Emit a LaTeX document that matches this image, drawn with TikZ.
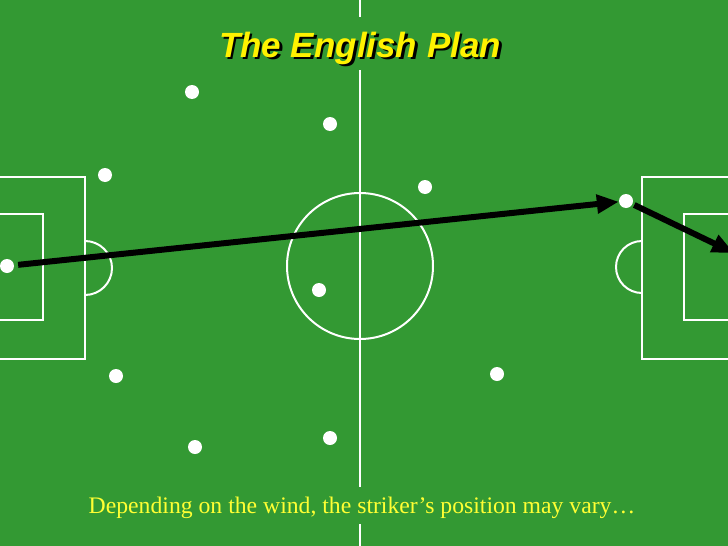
\documentclass[tikz,border=0pt]{standalone}
\usepackage{fontspec}
\setmainfont{Liberation Serif}
\newfontfamily\titlefont{Liberation Sans}
\usetikzlibrary{arrows.meta}
\definecolor{pitch}{RGB}{51,153,51}
\definecolor{caption}{RGB}{255,255,51}
\tikzset{
  marking/.style={draw=white, line width=2pt},
  player/.style={circle, fill=white, inner sep=0pt, minimum size=14pt},
  pass/.style={draw=black, line width=6pt, -{Triangle[length=22pt,width=18pt]}},
  heading/.style={anchor=base, font=\titlefont\bfseries\itshape\fontsize{35}{40}\selectfont},
}

\begin{document}
\begin{tikzpicture}[x=1pt, y=-1pt]
    \useasboundingbox (0,0) rectangle (728,546);
    \clip (0,0) rectangle (728,546);
    \fill[pitch] (0,0) rectangle (728,546);
    % markings
    \draw[marking] (360,0) -- (360,17);
    \draw[marking] (360,70) -- (360,487);
    \draw[marking] (360,524) -- (360,546);
    \draw[marking] (360,266) circle (73);
    \draw[marking] (-5,177) -- (85,177) -- (85,359) -- (-5,359);
    \draw[marking] (-5,214) -- (43,214) -- (43,320) -- (-5,320);
    \draw[marking] (85,241) arc (-90:90:27);
    \draw[marking] (733,177) -- (642,177) -- (642,359) -- (733,359);
    \draw[marking] (733,214) -- (684,214) -- (684,320) -- (733,320);
    \draw[marking] (642,241) arc (-90:-270:26);
    % players
    \node[player] (p1) at (7,266) {};
    \node[player] (p2) at (105,175) {};
    \node[player] (p3) at (116,376) {};
    \node[player] (p4) at (192,92) {};
    \node[player] (p5) at (195,447) {};
    \node[player] (p6) at (330,124) {};
    \node[player] (p7) at (319,290) {};
    \node[player] (p8) at (330,438) {};
    \node[player] (p9) at (425,187) {};
    \node[player] (p10) at (497,374) {};
    \node[player] (p11) at (626,201) {};
    \coordinate (goal) at (734,253);
    % passes
    \draw[pass, shorten <=4pt] (p1) -- (p11);
    \draw[pass, shorten <=2pt] (p11) -- (goal);
    % texts
    \node[heading, text=black] (shadow) at (362.5,59.5) {The English Plan};
    \node[heading, text=yellow] (title) at (360,57) {The English Plan};
    \node[anchor=base, text=caption, font=\fontsize{23.7}{28}\selectfont] (note) at (362,513) {Depending on the wind, the striker’s position may vary…};
\end{tikzpicture}
\end{document}
